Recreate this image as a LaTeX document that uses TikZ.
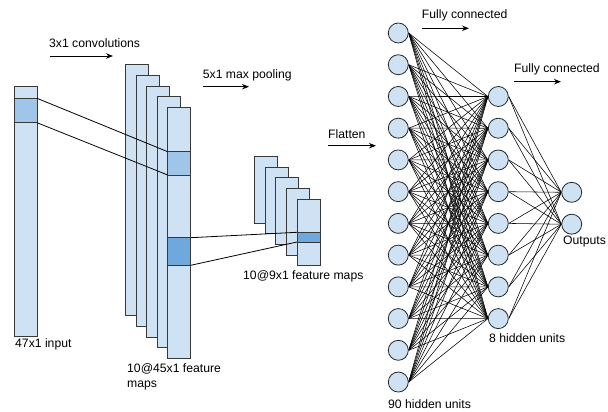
\documentclass[tikz,border=0pt]{standalone}
\usepackage{fontspec}
\setmainfont{Liberation Sans}
\usepackage{xcolor}
\usetikzlibrary{arrows.meta,backgrounds}
\definecolor{mapfill}{HTML}{CFE2F3}
\definecolor{maphl}{HTML}{9FC5E8}
\definecolor{mapdark}{HTML}{6FA8DC}
\definecolor{mapedge}{HTML}{383838}

\begin{document}
\begin{tikzpicture}[x=1pt, y=-1pt, >={Stealth[length=7pt,width=5.5pt]},
                    every node/.style={font=\fontsize{12.2}{15}\selectfont},
                    fmap/.style={draw=mapedge, fill=mapfill, line width=0.9pt,
                                 inner sep=0pt, outer sep=0pt, anchor=north west,
                                 minimum width=23pt},
                    patch/.style={fmap, fill=maphl},
                    unit/.style={circle, draw=black!85, fill=mapfill, line width=0.8pt,
                                 minimum size=20pt, inner sep=0pt},
                    lbl/.style={inner sep=0pt, anchor=west},
                    flow/.style={line width=0.9pt, ->},
                    wire/.style={line width=0.55pt}]

\useasboundingbox (0,0) rectangle (608,412);

%% ==== input column =================================================
\node[fmap, minimum height=250pt] (inp) at (14,86) {};
\node[patch, minimum height=24.4pt] (inpatch) at (14,98.3) {};
\node[lbl, anchor=north west] (inplbl) at (15,338) {47x1 input};

%% ==== 3x1 convolutions ============================================
\coordinate (convA) at (50,56);
\coordinate (convB) at (113,56);
\draw[flow] (convA) -- (convB);
\node[lbl] (convlbl) at (49,43.5) {3x1 convolutions};

%% 10 feature maps, drawn as a stack of five
\foreach \i in {0,...,4}
  \node[fmap, minimum height=251pt] (conv\i) at (125.7+10.5*\i, 64.7+10.65*\i) {};
\node[patch, minimum height=23.3pt] (convpatch) at (167.7,151.7) {};
\node[patch, fill=mapdark, minimum height=27.6pt] (convpool) at (167.7,237.7) {};
\node[lbl, anchor=north west, align=left] (convlbl2) at (127,363)
  {10@45x1 feature\\maps};

%% ==== 5x1 max pooling =============================================
\coordinate (poolA) at (203,86.7);
\coordinate (poolB) at (249,86.7);
\draw[flow] (poolA) -- (poolB);
\node[lbl] (poollbl) at (202.7,75) {5x1 max pooling};

\foreach \i in {0,...,4}
  \node[fmap, minimum height=66.6pt] (pool\i) at (254.3+10.7*\i, 156.7+10.6*\i) {};
\node[patch, fill=mapdark, minimum height=9.7pt] (poolpatch) at (297,232.3) {};
\node[lbl] (poollbl2) at (243,276) {10@9x1 feature maps};

%% receptive field lines
\draw[wire, line width=0.8pt] (inpatch.north east) -- (convpatch.north west);
\draw[wire, line width=0.8pt] (inpatch.south east) -- (convpatch.south west);
\draw[wire, line width=0.8pt] (convpool.north east) -- (poolpatch.north west);
\draw[wire, line width=0.8pt] (convpool.south east) -- (poolpatch.south west);

%% ==== flatten + fully connected layers ============================
\coordinate (flatA) at (328,145.7);
\coordinate (flatB) at (376,145.7);
\draw[flow] (flatA) -- (flatB);
\node[lbl] (flatlbl) at (328,134) {Flatten};

\coordinate (fcA) at (422,28.3);
\coordinate (fcB) at (469,28.3);
\draw[flow] (fcA) -- (fcB);
\node[lbl] (fclbl) at (421.7,15) {Fully connected};

\coordinate (fcC) at (514,81.7);
\coordinate (fcD) at (561,81.7);
\draw[flow] (fcC) -- (fcD);
\node[lbl] (fclbl2) at (514,69) {Fully connected};

%% units
\foreach \i in {1,...,12}
  \node[unit] (h\i) at (398.3, 33+31.73*\i-31.73) {};
\foreach \j in {1,...,8}
  \node[unit] (g\j) at (498.3, 96.5+31.73*\j-31.73) {};
\node[unit] (o1) at (571.7,192.3) {};
\node[unit] (o2) at (571.7,224.2) {};

%% weights, kept under the units
\begin{pgfonlayer}{background}
\foreach \i in {1,...,12}
  \foreach \j in {1,...,8}
    \draw[wire] (h\i.east) -- (g\j.west);
\foreach \j in {1,...,8}
  \foreach \k in {1,2}
    \draw[wire] (g\j.east) -- (o\k.west);
\end{pgfonlayer}

\node[lbl] (h1lbl) at (388,404) {90 hidden units};
\node[lbl] (g1lbl) at (489,338) {8 hidden units};
\node[lbl] (olbl) at (563,242) {Outputs};

\end{tikzpicture}
\end{document}
